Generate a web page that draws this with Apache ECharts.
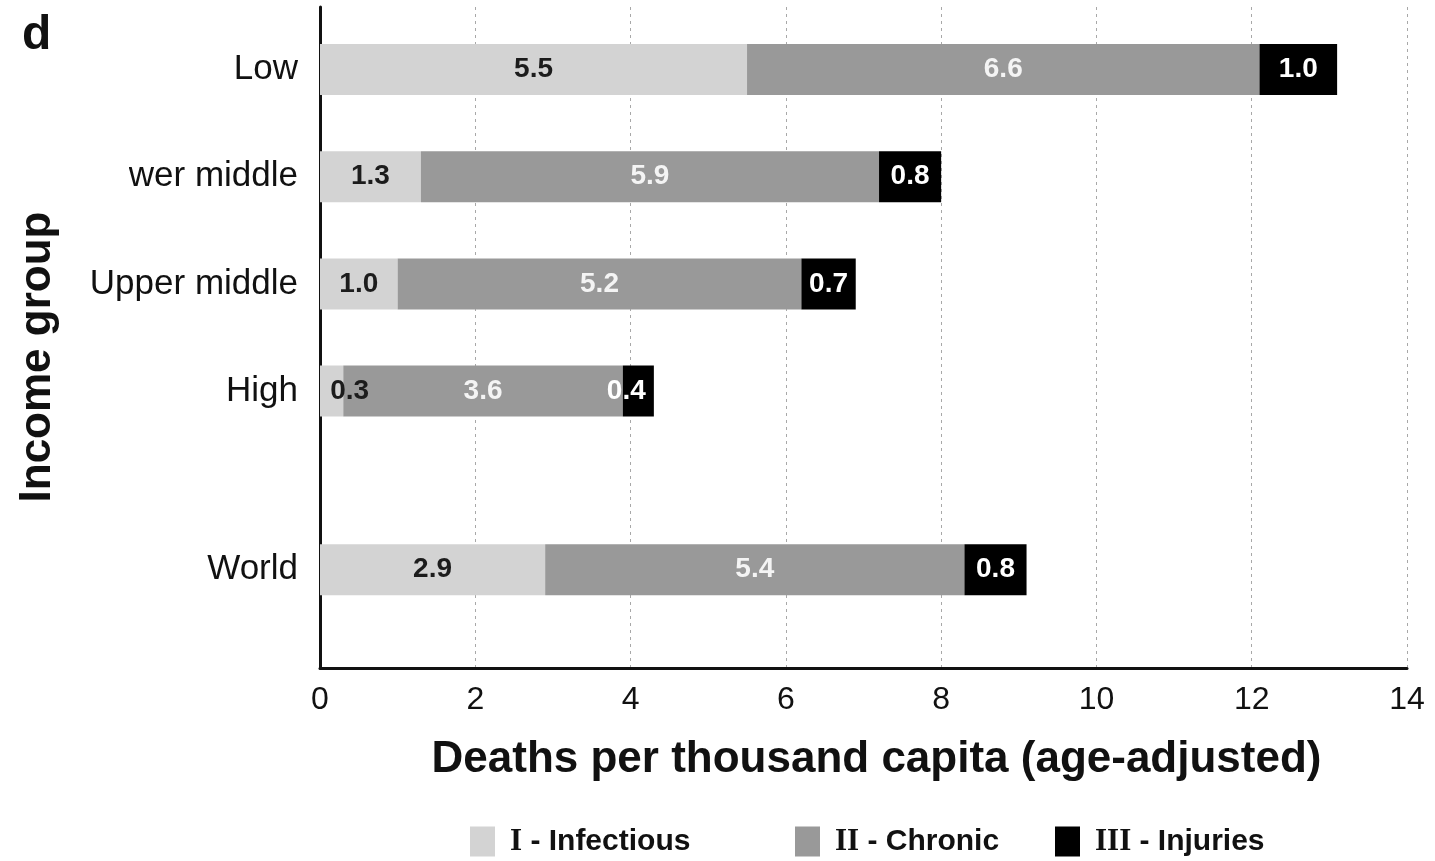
<!DOCTYPE html>
<html>
<head>
<meta charset="utf-8">
<title>Deaths per thousand capita by income group</title>
<script src="https://cdn.jsdelivr.net/npm/echarts@6/dist/echarts.min.js"></script>
<style>
  html, body { margin: 0; padding: 0; background: #fff; }
  #chart { width: 1435px; height: 861px; }
</style>
</head>
<body>
<div id="chart"></div>
<script>
// Income groups (top to bottom) and age-adjusted deaths per thousand, by cause group
const groups = ['Low', 'Lower middle', 'Upper middle', 'High', 'World'];
const infectious = [5.5, 1.3, 1.0, 0.3, 2.9];
const chronic = [6.6, 5.9, 5.2, 3.6, 5.4];
const injuries = [1.0, 0.8, 0.7, 0.4, 0.8];
const causeNames = ['I - Infectious', 'II - Chronic', 'III - Injuries'];
const xTicks = { min: 0, max: 14, step: 2 };

// Vertical layout: the category axis is split into fine slots so that the
// World row sits apart from the four income groups.
const SLOTS = 37;
const rowSlot = [3, 9, 15, 21, 31];

const slotNames = new Array(SLOTS).fill('');
rowSlot.forEach((s, i) => { slotNames[s] = groups[i]; });

// nudges for labels that are wider than their segment
const labelNudge = {
  'I - Infectious': { 3: [18, 0] },
  'III - Injuries': { 3: [-12, 0] }
};

function slotData(values, name) {
  const out = new Array(SLOTS).fill('-');
  values.forEach((v, i) => {
    const nudge = labelNudge[name] && labelNudge[name][i];
    out[rowSlot[i]] = nudge ? { value: v, label: { offset: nudge } } : v;
  });
  return out;
}

const narrow = "'Liberation Sans Narrow', 'Liberation Sans', Arial, sans-serif";
const sans = "'Liberation Sans', Arial, Helvetica, sans-serif";
const serif = "'Liberation Serif', 'Times New Roman', serif";

const colors = ['#d3d3d3', '#999999', '#000000'];
const labelColors = ['#1c1c1c', '#f4f4f4', '#ffffff'];
const seriesValues = [infectious, chronic, injuries];

const series = causeNames.map((name, k) => ({
  name: name,
  type: 'bar',
  stack: 'total',
  barWidth: 51,
  itemStyle: { color: colors[k] },
  label: {
    show: true,
    position: 'inside',
    fontFamily: sans,
    fontSize: 28,
    fontWeight: 'bold',
    color: labelColors[k],
    formatter: p => (typeof p.value === 'number' ? p.value.toFixed(1) : '')
  },
  emphasis: { disabled: true },
  data: slotData(seriesValues[k], name)
}));

function legendFor(name, left) {
  const parts = name.split(' - ');
  return {
    data: [name],
    left: left,
    top: 821,
    icon: 'rect',
    itemWidth: 25,
    itemHeight: 30,
    selectedMode: false,
    formatter: () => '{r|' + parts[0] + '}{t| - ' + parts[1] + '}',
    textStyle: {
      padding: [0, 0, 0, 10],
      rich: {
        r: { fontFamily: serif, fontWeight: 'bold', fontSize: 31, color: '#111' },
        t: { fontFamily: narrow, fontWeight: 'bold', fontSize: 30, color: '#111' }
      }
    }
  };
}

const chart = echarts.init(document.getElementById('chart'), null, { renderer: 'canvas' });

chart.setOption({
  backgroundColor: '#ffffff',
  animation: false,
  grid: { left: 320, right: 28, top: 7, bottom: 193, containLabel: false },
  legend: [
    legendFor(causeNames[0], 465),
    legendFor(causeNames[1], 790),
    legendFor(causeNames[2], 1050)
  ],
  xAxis: {
    type: 'value',
    min: xTicks.min,
    max: xTicks.max,
    interval: xTicks.step,
    axisLine: { show: true, lineStyle: { color: '#111', width: 3 } },
    axisTick: { show: false },
    axisLabel: {
      margin: 16,
      fontFamily: narrow,
      fontSize: 32,
      color: '#111',
      showMaxLabel: true
    },
    splitLine: { show: true, lineStyle: { color: '#a8a8a8', width: 1, type: [3, 4] } },
    name: 'Deaths per thousand capita (age-adjusted)',
    nameLocation: 'middle',
    nameGap: 70,
    nameTextStyle: {
      fontFamily: narrow,
      fontWeight: 'bold',
      fontSize: 44,
      color: '#111',
      padding: [0, 0, 0, 26]
    }
  },
  yAxis: {
    type: 'category',
    inverse: true,
    data: slotNames,
    axisLine: { show: true, lineStyle: { color: '#111', width: 3 } },
    axisTick: { show: false },
    splitLine: { show: false },
    axisLabel: {
      interval: 0,
      margin: 22,
      fontFamily: sans,
      fontSize: 35,
      color: '#111'
    }
  },
  graphic: [
    {
      // panel letter
      type: 'text',
      left: 22,
      top: 12,
      style: { text: 'd', fontFamily: sans, fontWeight: 'bold', fontSize: 48, fill: '#111' }
    },
    {
      // y-axis title
      type: 'text',
      x: 38,
      y: 357,
      rotation: Math.PI / 2,
      style: {
        text: 'Income group',
        fontFamily: sans,
        fontWeight: 'bold',
        fontSize: 44,
        fill: '#111',
        align: 'center',
        verticalAlign: 'middle'
      }
    },
    {
      // white patch over the start of the second row label
      type: 'rect',
      z: 100,
      shape: { x: 45, y: 150, width: 84, height: 58 },
      style: { fill: '#ffffff' }
    }
  ],
  series: series
});
</script>
</body>
</html>
